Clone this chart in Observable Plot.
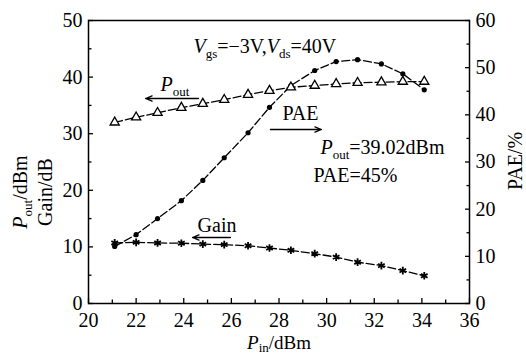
<!DOCTYPE html>
<html><head><meta charset="utf-8">
<script src="https://cdn.jsdelivr.net/npm/d3@7"></script>
<script src="https://cdn.jsdelivr.net/npm/@observablehq/plot@0.6"></script>
<style>
html,body{margin:0;padding:0;background:#fff;}
#chart svg{font-family:"Liberation Serif","Times New Roman",serif;display:block;}
</style></head><body><div id="chart"></div>
<script>
// Data
const pin  = [21.1, 22.0, 22.9, 23.9, 24.8, 25.7, 26.7, 27.6, 28.5, 29.5, 30.4, 31.3, 32.3, 33.2, 34.1];
const pout = [32.0, 32.9, 33.7, 34.6, 35.3, 36.0, 36.9, 37.6, 38.2, 38.5, 38.8, 39.0, 39.1, 39.2, 39.2];
const pae  = [12.1, 14.6, 18.0, 21.8, 26.1, 30.9, 36.2, 41.6, 46.2, 49.4, 51.3, 51.7, 50.8, 48.7, 45.3];
const gain = [10.7, 10.8, 10.7, 10.65, 10.5, 10.4, 10.2, 9.8, 9.4, 8.8, 8.2, 7.3, 6.7, 5.8, 4.9];

const xTicks = [20, 22, 24, 26, 28, 30, 32, 34, 36];
const xMinor = [21, 23, 25, 27, 29, 31, 33, 35];
const leftTicks = [0, 10, 20, 30, 40, 50];
const leftMinor = [5, 15, 25, 35, 45];
const rightTicks = [0, 10, 20, 30, 40, 50, 60];
const rightMinor = [5, 15, 25, 35, 45, 55];

// annotation texts (x in dBm, y in left-axis units, baseline)
const notes = [
  {x: 24.41, y: 44.17, text: "*V*_{gs}=−3V,*V*_{ds}=40V"},
  {x: 23.02, y: 37.63, text: "*P*_{out}"},
  {x: 28.15, y: 32.5,  text: "PAE"},
  {x: 29.74, y: 26.5,  text: "*P*_{out}=39.02dBm"},
  {x: 29.45, y: 21.55, text: "PAE=45%"},
  {x: 24.58, y: 12.72, text: "Gain"}
];
const arrows = [
  {x1: 24.62, x2: 22.40, y: 36.22},
  {x1: 27.64, x2: 29.78, y: 30.74},
  {x1: 25.96, x2: 24.37, y: 11.66}
];

const paeToLeft = v => v * 50 / 60;
const rows = pin.map((x, i) => ({x, pout: pout[i], pae: paeToLeft(pae[i]), gain: gain[i]}));

const FS = 20;
const lineOpts = {stroke: "#000", strokeWidth: 1.3, strokeDasharray: "8,3"};

const chart = Plot.plot({
  width: 526, height: 356,
  marginLeft: 88, marginRight: 57, marginTop: 20, marginBottom: 53,
  style: {fontFamily: "Liberation Serif, Times New Roman, serif", background: "#fff"},
  x: {domain: [20, 36], label: null},
  y: {domain: [0, 50], label: null},
  marks: [
    Plot.frame({stroke: "#000", strokeWidth: 1.5}),
    // tick labels
    Plot.axisX(xTicks, {tickSize: 0, tickPadding: 9, fontSize: FS, label: null, fill: "#000"}),
    Plot.axisY(leftTicks, {anchor: "left", tickSize: 0, tickPadding: 6, fontSize: FS, label: null, fill: "#000"}),
    Plot.axisY(rightTicks.map(paeToLeft), {anchor: "right", tickSize: 0, tickPadding: 6, fontSize: FS, label: null, fill: "#000", tickFormat: d => String(Math.round(d * 60 / 50))}),
    // inward tick marks
    Plot.axisX(xTicks, {tickSize: 5, dy: -5, tickFormat: () => "", label: null, strokeWidth: 1.3}),
    Plot.axisX(xMinor, {tickSize: 3.5, dy: -3.5, tickFormat: () => "", label: null, strokeWidth: 1.3}),
    Plot.axisY(leftTicks, {anchor: "left", tickSize: 5, dx: 5, tickFormat: () => "", label: null, strokeWidth: 1.3}),
    Plot.axisY(leftMinor, {anchor: "left", tickSize: 3.5, dx: 3.5, tickFormat: () => "", label: null, strokeWidth: 1.3}),
    Plot.axisY(rightTicks.map(paeToLeft), {anchor: "right", tickSize: 5, dx: -5, tickFormat: () => "", label: null, strokeWidth: 1.3}),
    Plot.axisY(rightMinor.map(paeToLeft), {anchor: "right", tickSize: 3.5, dx: -3.5, tickFormat: () => "", label: null, strokeWidth: 1.3}),
    // series
    Plot.line(rows, {x: "x", y: "pout", ...lineOpts}),
    Plot.line(rows, {x: "x", y: "pae", ...lineOpts}),
    Plot.line(rows, {x: "x", y: "gain", ...lineOpts}),
    Plot.dot(rows, {x: "x", y: "pae", r: 2.6, fill: "#000", stroke: "none"}),
    Plot.dot(rows, {x: "x", y: "gain", symbol: "asterisk", r: 3.6, stroke: "#000", strokeWidth: 1.8}),
    Plot.dot(rows, {x: "x", y: "pout", symbol: "triangle", r: 3.4, fill: "#fff", stroke: "#000", strokeWidth: 1.3}),
    // annotations
    Plot.arrow(arrows, {x1: "x1", x2: "x2", y1: "y", y2: "y", stroke: "#000", strokeWidth: 1.3, headLength: 8, headAngle: 45}),
    Plot.text(notes, {x: "x", y: "y", text: "text", textAnchor: "start", lineAnchor: "bottom", fontSize: FS, fill: "#000"})
  ]
});

document.getElementById("chart").appendChild(chart);

const NS = "http://www.w3.org/2000/svg";
function rich(el, s, sub = 5) {
  el.textContent = "";
  const re = /\*([^*]+)\*|_\{([^}]+)\}|([^*_]+)/g;
  let m, inSub = false;
  while ((m = re.exec(s))) {
    const t = document.createElementNS(NS, "tspan");
    if (m[2]) {
      t.textContent = m[2];
      t.setAttribute("font-size", "13");
      if (!inSub) t.setAttribute("dy", sub);
      inSub = true;
    } else {
      t.textContent = m[1] || m[3];
      if (m[1]) t.setAttribute("font-style", "italic");
      if (inSub) t.setAttribute("dy", -sub);
      inSub = false;
    }
    el.appendChild(t);
  }
}

const svg = d3.select(chart);
svg.selectAll("text").each(function() {
  const s = this.textContent;
  if (s.includes("*") || s.includes("_{")) rich(this, s);
});

// axis titles
const titles = [
  {text: "*P*_{out}/dBm", x: 27, y: 192, rot: -90, fs: FS, sub: 5},
  {text: "Gain/dB", x: 52, y: 192, rot: -90, fs: FS, sub: 5},
  {text: "PAE/%", x: 522, y: 161, rot: -90, fs: FS, sub: 5},
  {text: "*P*_{in}/dBm", x: 279, y: 349, rot: 0, fs: 19, sub: 3}
];
titles.forEach(t => {
  const el = svg.append("text")
    .attr("transform", `translate(${t.x},${t.y}) rotate(${t.rot})`)
    .attr("text-anchor", "middle")
    .attr("font-size", t.fs)
    .attr("fill", "#000")
    .node();
  rich(el, t.text, t.sub);
});
</script>
</body></html>
